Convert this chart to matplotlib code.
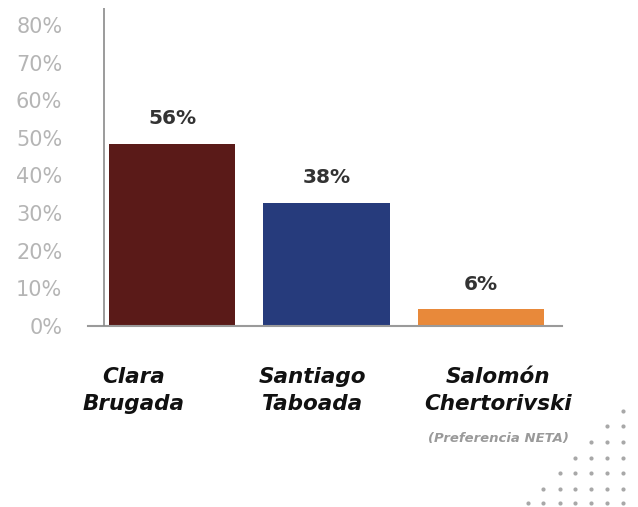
import numpy as np
import matplotlib
matplotlib.use("Agg")
from matplotlib import pyplot as plt
from matplotlib.transforms import blended_transform_factory

# data (bar heights as drawn on the axis, labels as printed)
candidates = ["Clara\nBrugada", "Santiago\nTaboada", "Salomón\nChertorivski"]
bar_heights = [48.4, 32.7, 4.5]
value_labels = ["56%", "38%", "6%"]
bar_colors = ["#5a1a18", "#263b7c", "#e8893a"]
yticks = [0, 10, 20, 30, 40, 50, 60, 70, 80]
note = "(Preferencia NETA)"

W, H = 638, 507
fig = plt.figure(figsize=(W / 100, H / 100), dpi=100)
fig.patch.set_facecolor("white")

# axes placed in pixels: x 88..562, y 8..326
ax = fig.add_axes([88 / W, (H - 326) / H, 474 / W, 318 / H])
u = 154.5  # pixels per category
ax.set_xlim((88 - 172) / u, (562 - 172) / u)
ax.set_ylim(0, 318 / 37.625)
ax.set_ylim(0, 84.5)

x = np.arange(len(candidates))
ax.bar(x, bar_heights, width=0.82, color=bar_colors, zorder=2)

for xi, h, lab in zip(x, bar_heights, value_labels):
    ax.annotate(lab, (xi, h), xytext=(0, 14), textcoords="offset points",
                ha="center", va="baseline", fontsize=14.5, fontweight="bold",
                color="#333333")

for s in ["top", "right", "left"]:
    ax.spines[s].set_visible(False)
ax.spines["bottom"].set_color("#9a9a9a")
ax.spines["bottom"].set_linewidth(1.5)
ax.axvline((104 - 172) / u, color="#8a8a8a", lw=1.2, zorder=3)

ax.set_xticks([])
ax.set_yticks(yticks)
ax.set_yticklabels([f"{t}%" for t in yticks], fontsize=15, color="#b5b5b5")
ax.tick_params(axis="y", length=0, pad=18.5)

# candidate names below the axis
label_shift = [-0.25, -0.09, 0.11]
tr = blended_transform_factory(ax.transData, fig.transFigure)
for xi, name, dx in zip(x, candidates, label_shift):
    first, second = name.split("\n")
    ax.text(xi + dx, (H - 383) / H, first, transform=tr, ha="center",
            va="baseline", fontsize=15.5, fontweight="bold", style="italic",
            color="#111111")
    ax.text(xi + dx, (H - 410) / H, second, transform=tr, ha="center",
            va="baseline", fontsize=15.5, fontweight="bold", style="italic",
            color="#111111")
ax.text(x[-1] + label_shift[-1], (H - 442) / H, note, transform=tr, ha="center",
        va="baseline", fontsize=9.5, fontweight="bold", style="italic",
        color="#9a9a9a")

# decorative dot triangle, bottom right
deco = fig.add_axes([0, 0, 1, 1], zorder=-1)
deco.set_xlim(0, W)
deco.set_ylim(H, 0)
deco.axis("off")
cols = [528, 543, 560, 575, 591, 607, 623]
rows = [411, 426, 442, 458, 473, 489, 503]
for r, yy in enumerate(rows):
    xs = cols[len(cols) - r - 1:]
    deco.scatter(xs, [yy] * len(xs), s=9, color="#a8a8a8", linewidths=0)

fig.savefig("out.png", dpi=100)
